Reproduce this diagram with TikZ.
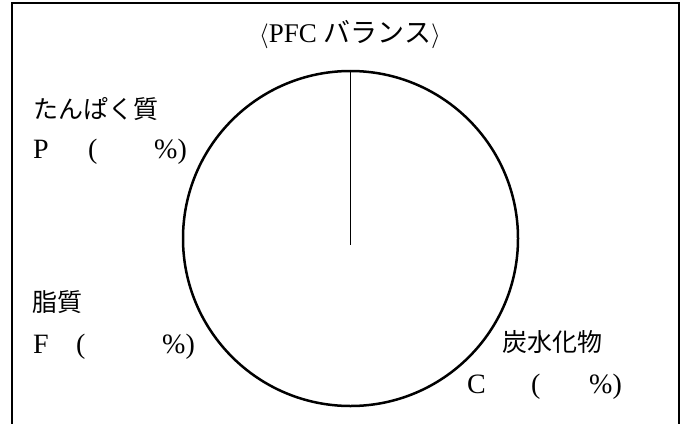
\documentclass[tikz,border=0pt]{standalone}
\usepackage{fontspec}
\setmainfont{Liberation Serif}
\newfontfamily\jp{Noto Sans CJK JP}
\begin{document}
\begin{tikzpicture}[x=1pt,y=-1pt,
  lat/.style={inner sep=0pt,anchor=base west,font=\fontsize{28}{32}\selectfont},
  jpl/.style={inner sep=0pt,anchor=west,font=\jp\fontsize{25}{30}\selectfont},
  frame/.style={line width=1.3pt},
  pie/.style={draw,circle,line width=2.5pt,minimum size=335pt,inner sep=0pt}]
\useasboundingbox (0,0) rectangle (687,423);
\coordinate (fbl) at (12,424);
\coordinate (ftl) at (12,3);
\coordinate (ftr) at (679,3);
\coordinate (fbr) at (679,424);
\draw[frame] (fbl) -- (ftl) -- (ftr) -- (fbr);
\node[inner sep=0pt,font=\fontsize{27}{32}\selectfont] (title) at (350,35) {$\langle$PFC {\jp バランス}$\rangle$};
\node[pie] (pie) at (350.5,238.5) {};
\coordinate (ctr) at (350.5,245);
\draw[line width=1pt] (pie.north) -- (ctr);
% protein
\node[jpl] (pj) at (33,109) {たんぱく質};
\node[lat] (pp) at (33,158) {P};
\node[lat] (pl) at (88,158) {(};
\node[lat] (pr) at (154,158) {\%)};
% fat
\node[jpl] (fj) at (32,302) {脂質};
\node[lat] (ff) at (33,353) {F};
\node[lat] (fl) at (76,353) {(};
\node[lat] (fr) at (162,353) {\%)};
% carbohydrate
\node[jpl] (cj) at (502,342) {炭水化物};
\node[lat] (cc) at (467,393) {C};
\node[lat] (cl) at (531,393) {(};
\node[lat] (cr) at (589,393) {\%)};
\end{tikzpicture}
\end{document}
